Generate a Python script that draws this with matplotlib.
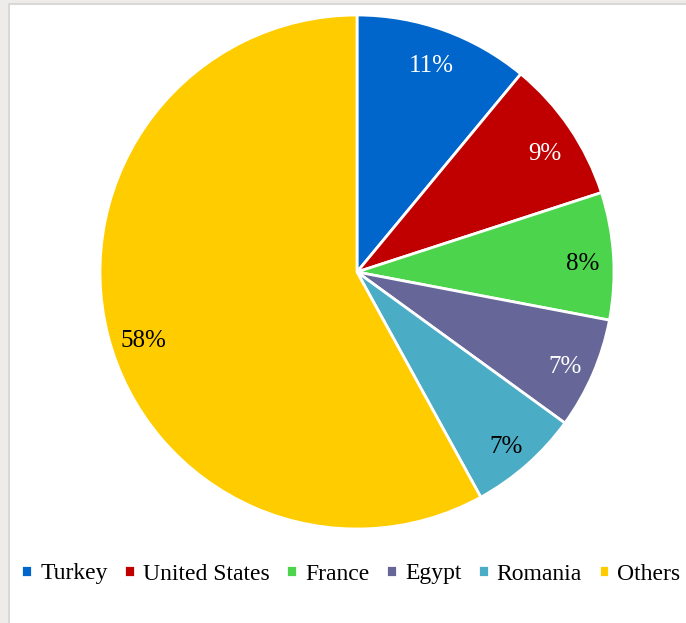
import matplotlib.pyplot as plt
from matplotlib.patches import Rectangle

countries = ['Turkey', 'United States', 'France', 'Egypt', 'Romania', 'Others']
shares = [11, 9, 8, 7, 7, 58]
colors = ['#0066CC', '#C00000', '#4CD44C', '#666699', '#4BACC6', '#FFCC00']
label_colors = ['white', 'white', 'black', 'white', 'black', 'black']
# where each percentage label sits, in units of the pie radius
label_pos = [(0.29, 0.80), (0.73, 0.46), (0.88, 0.03),
             (0.81, -0.37), (0.58, -0.68), (-0.83, -0.27)]

plt.rcParams['font.family'] = ['Liberation Serif', 'DejaVu Serif']

W, H = 686, 623
fig = plt.figure(figsize=(W / 100, H / 100), dpi=100, facecolor='#EDECEA')

# white chart area with a thin grey frame on the left and top
fig.patches.append(Rectangle((9 / W, -0.01), 1, (H - 4) / H + 0.01, transform=fig.transFigure,
                             facecolor='white', edgecolor='#D8D8D8', linewidth=1.5,
                             zorder=-5))

cx, cy, r = 357, 272, 257
ax = fig.add_axes([(cx - r) / W, (H - cy - r) / H, 2 * r / W, 2 * r / H])
ax.set_facecolor('none')

wedges, texts, autotexts = ax.pie(
    shares, colors=colors, startangle=90, counterclock=False, radius=1,
    autopct='%1.0f%%', pctdistance=0.86,
    wedgeprops=dict(edgecolor='white', linewidth=2),
    textprops=dict(fontsize=18))
for t, c, p in zip(autotexts, label_colors, label_pos):
    t.set_color(c)
    t.set_position(p)
ax.set_xlim(-1, 1)
ax.set_ylim(-1, 1)
ax.set_aspect('equal')

fig.legend(wedges, countries, loc='center', bbox_to_anchor=(351 / W, 1 - 574 / H),
           ncol=6, frameon=False, fontsize=17, handlelength=0.45, handleheight=0.45,
           handletextpad=0.35, columnspacing=0.7, borderaxespad=0)

fig.savefig('out.png', dpi=100, facecolor=fig.get_facecolor())
